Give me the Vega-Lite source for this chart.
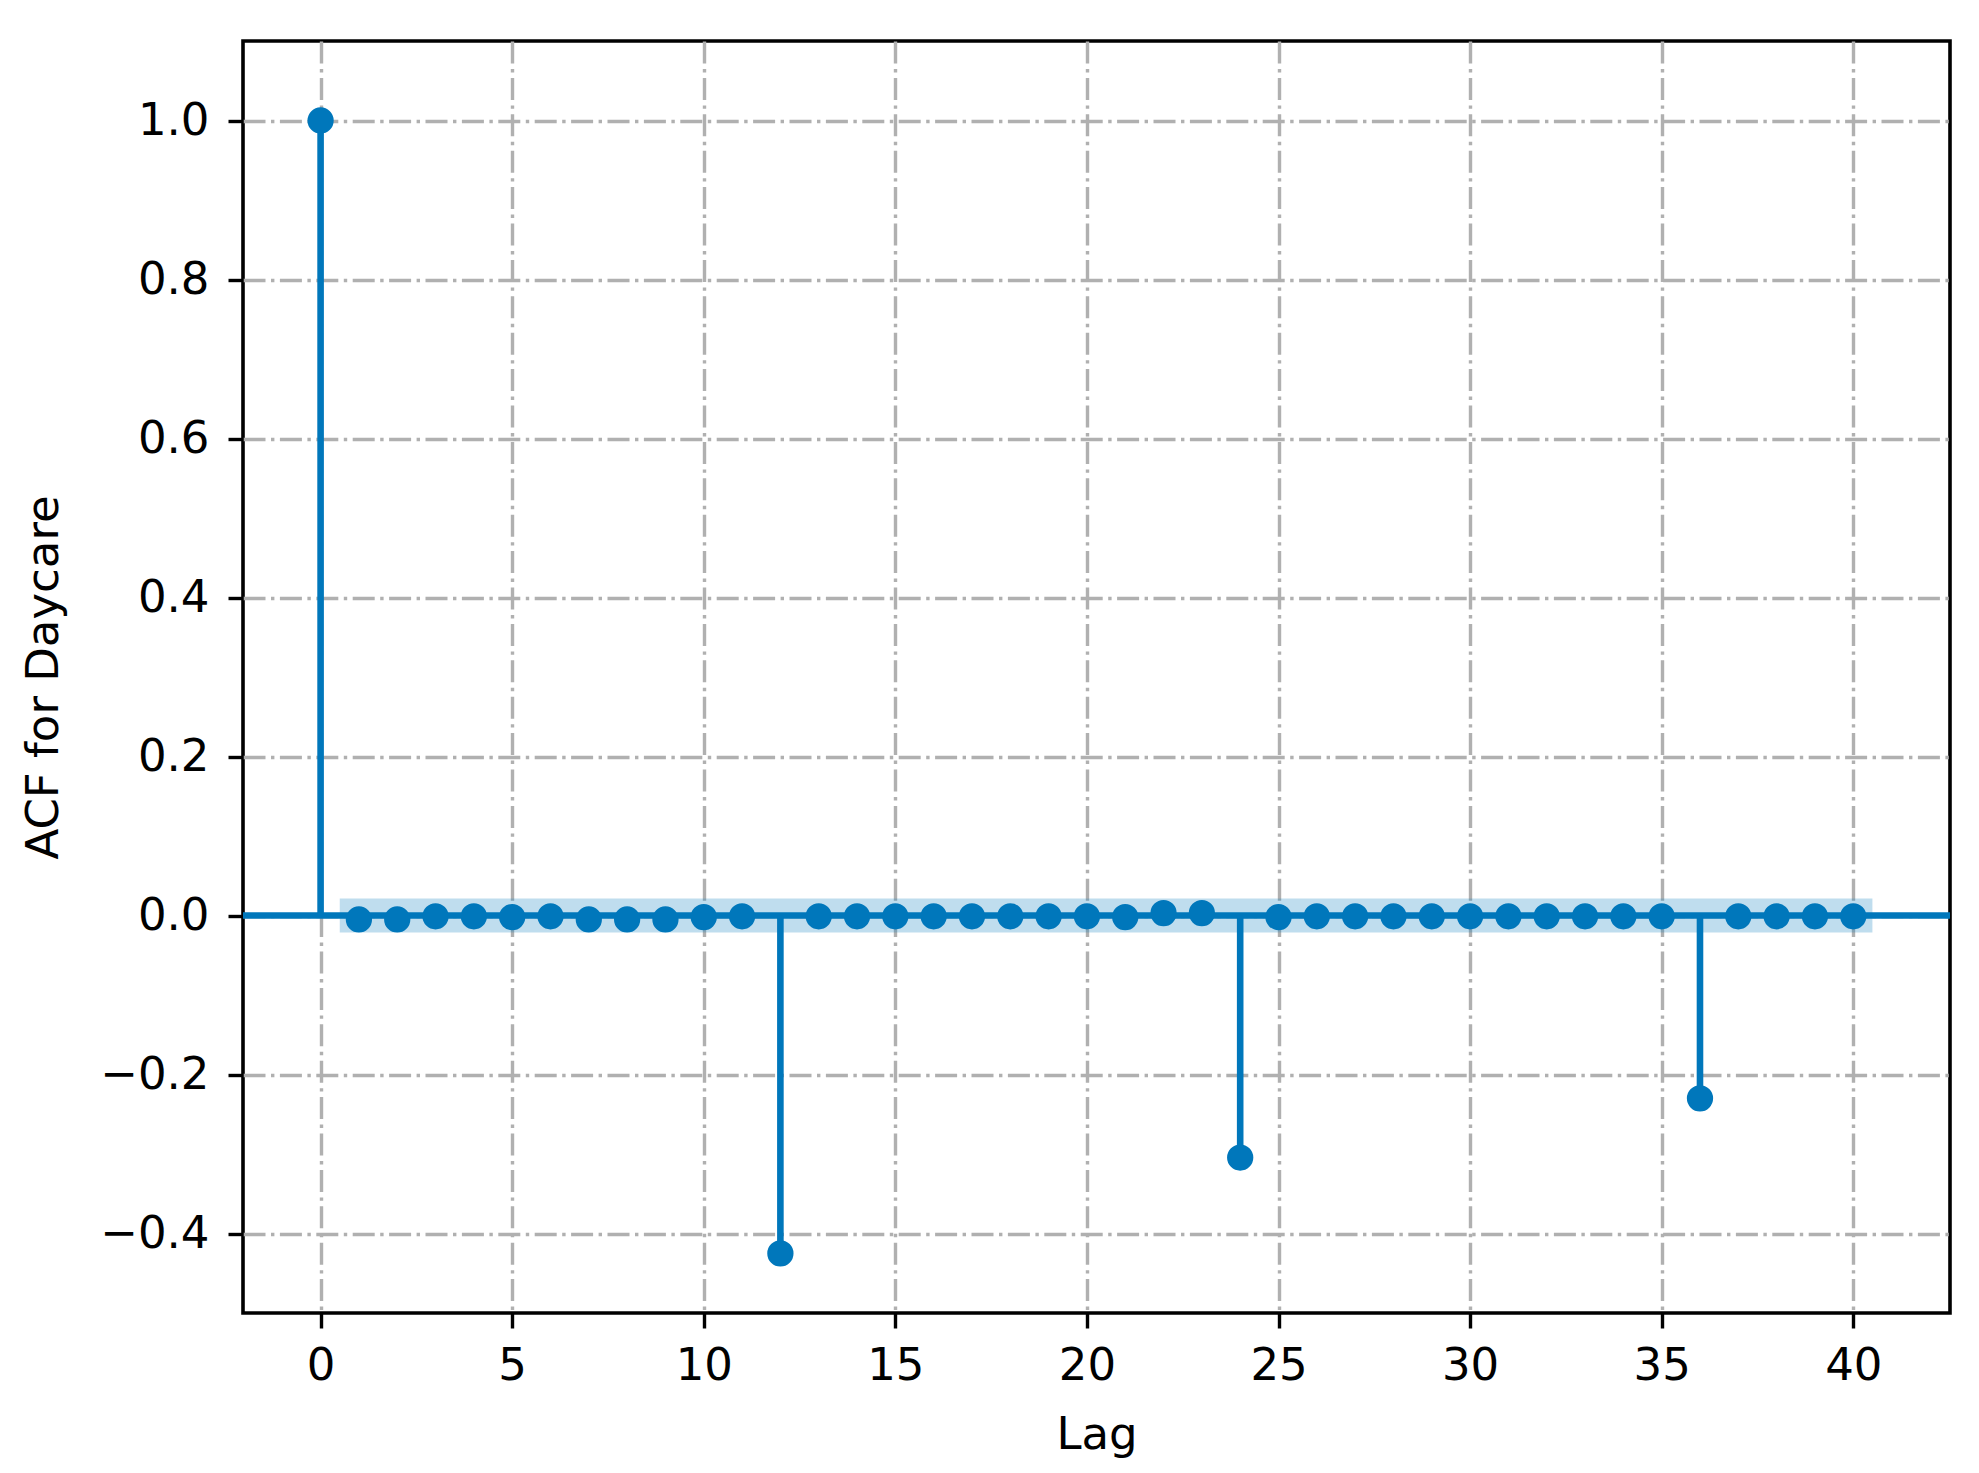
{
  "$schema": "https://vega.github.io/schema/vega-lite/v6.json",
  "autosize": {"type": "none"},
  "padding": {"left": 243, "top": 41, "right": 29, "bottom": 160},
  "width": 1707,
  "height": 1272,
  "background": "white",
  "view": {"stroke": "black", "strokeWidth": 3.6, "fill": "white"},
  "config": {
    "font": "DejaVu Sans",
    "axis": {
      "domain": false,
      "grid": true,
      "gridColor": "#b0b0b0",
      "gridWidth": 3.4,
      "gridDash": [22, 5.5, 3.4, 5.5],
      "gridOpacity": 1,
      "tickColor": "black",
      "tickWidth": 3.4,
      "tickSize": 15,
      "labelFont": "DejaVu Sans",
      "labelFontSize": 45,
      "labelColor": "black",
      "titleFont": "DejaVu Sans",
      "titleFontSize": 45,
      "titleFontWeight": "normal",
      "titleColor": "black"
    }
  },
  "datasets": {
    "acf": [
      {"lag": 0, "acf": 1.0},
      {"lag": 1, "acf": -0.005},
      {"lag": 2, "acf": -0.005},
      {"lag": 3, "acf": -0.001},
      {"lag": 4, "acf": -0.001},
      {"lag": 5, "acf": -0.002},
      {"lag": 6, "acf": -0.001},
      {"lag": 7, "acf": -0.005},
      {"lag": 8, "acf": -0.005},
      {"lag": 9, "acf": -0.005},
      {"lag": 10, "acf": -0.002},
      {"lag": 11, "acf": -0.001},
      {"lag": 12, "acf": -0.425},
      {"lag": 13, "acf": -0.001},
      {"lag": 14, "acf": -0.001},
      {"lag": 15, "acf": -0.001},
      {"lag": 16, "acf": -0.001},
      {"lag": 17, "acf": -0.001},
      {"lag": 18, "acf": -0.001},
      {"lag": 19, "acf": -0.001},
      {"lag": 20, "acf": -0.001},
      {"lag": 21, "acf": -0.002},
      {"lag": 22, "acf": 0.003},
      {"lag": 23, "acf": 0.003},
      {"lag": 24, "acf": -0.3045},
      {"lag": 25, "acf": -0.002},
      {"lag": 26, "acf": -0.001},
      {"lag": 27, "acf": -0.001},
      {"lag": 28, "acf": -0.001},
      {"lag": 29, "acf": -0.001},
      {"lag": 30, "acf": -0.001},
      {"lag": 31, "acf": -0.001},
      {"lag": 32, "acf": -0.001},
      {"lag": 33, "acf": -0.001},
      {"lag": 34, "acf": -0.001},
      {"lag": 35, "acf": -0.001},
      {"lag": 36, "acf": -0.23},
      {"lag": 37, "acf": -0.001},
      {"lag": 38, "acf": -0.001},
      {"lag": 39, "acf": -0.001},
      {"lag": 40, "acf": -0.001}
    ],
    "band": [
      {"lag": 0.5, "lower": -0.0215, "upper": 0.0215},
      {"lag": 40.5, "lower": -0.0215, "upper": 0.0215}
    ]
  },
  "layer": [
    {
      "data": {"name": "band"},
      "mark": {"type": "area", "color": "#0077bb", "opacity": 0.25},
      "encoding": {
        "x": {
          "field": "lag",
          "type": "quantitative",
          "scale": {"domain": [-2.025, 42.525], "nice": false, "zero": false},
          "axis": {"title": "Lag", "values": [0, 5, 10, 15, 20, 25, 30, 35, 40], "format": "d", "labelPadding": 15, "titlePadding": 24, "labelFlush": false}
        },
        "y": {
          "field": "lower",
          "type": "quantitative",
          "scale": {"domain": [-0.5, 1.1], "nice": false, "zero": false},
          "axis": {"title": "ACF for Daycare", "values": [-0.4, -0.2, 0.0, 0.2, 0.4, 0.6, 0.8, 1.0], "format": ".1f", "labelPadding": 19, "titlePadding": 33, "labelFlush": false}
        },
        "y2": {"field": "upper"}
      }
    },
    {
      "data": {"values": [{"level": 0}]},
      "mark": {"type": "rule", "color": "#0077bb", "strokeWidth": 6.6},
      "encoding": {
        "y": {"field": "level", "type": "quantitative"}
      }
    },
    {
      "data": {"name": "acf"},
      "mark": {"type": "rule", "color": "#0077bb", "strokeWidth": 6.6},
      "encoding": {
        "x": {"field": "lag", "type": "quantitative"},
        "y": {"field": "acf", "type": "quantitative"},
        "y2": {"datum": 0}
      }
    },
    {
      "data": {"name": "acf"},
      "mark": {"type": "point", "filled": true, "color": "#0077bb", "opacity": 1, "size": 690, "shape": "circle"},
      "encoding": {
        "x": {"field": "lag", "type": "quantitative"},
        "y": {"field": "acf", "type": "quantitative"}
      }
    }
  ]
}
